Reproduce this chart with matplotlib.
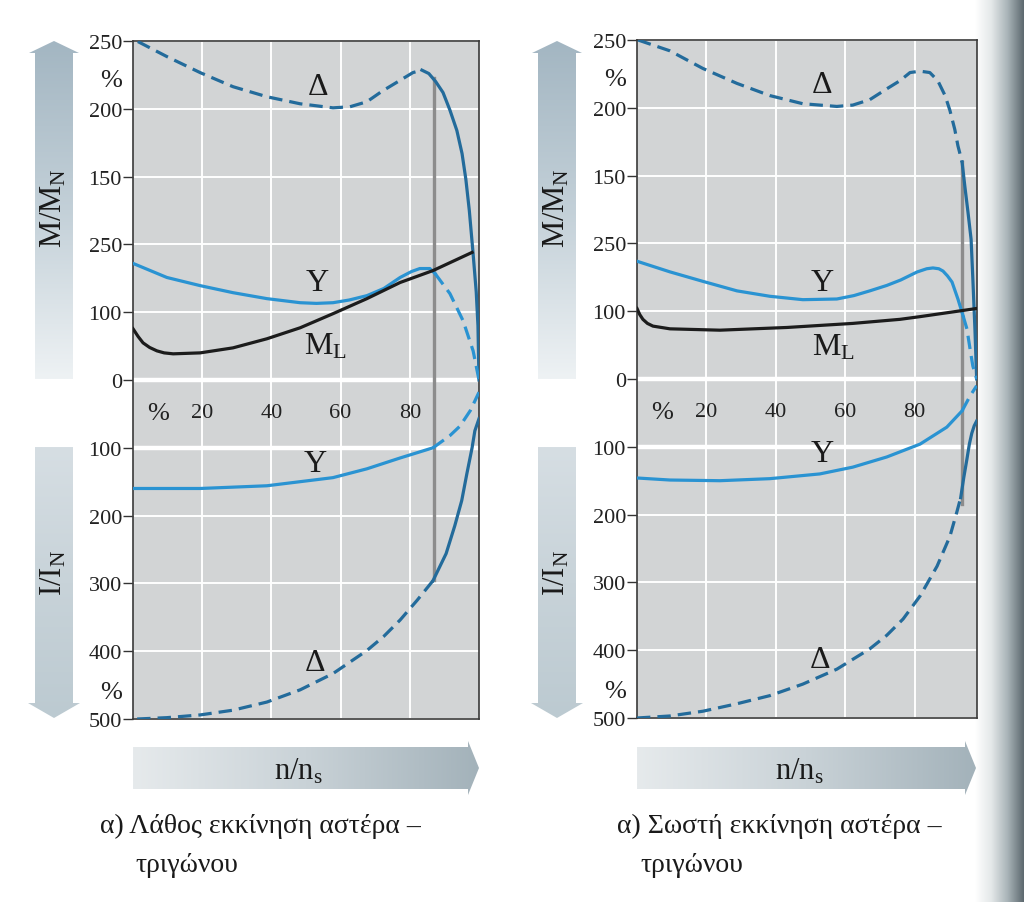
import numpy as np
import matplotlib.pyplot as plt
from matplotlib.patches import Polygon
from matplotlib.colors import LinearSegmentedColormap

plt.rcParams['font.family'] = ['Liberation Serif', 'DejaVu Serif']
plt.rcParams['mathtext.fontset'] = 'custom'
plt.rcParams['mathtext.rm'] = 'Liberation Serif'
plt.rcParams['mathtext.it'] = 'Liberation Serif:italic'

# printed y labels: upper half torque, lower half current (as in the book)
ytick_pos = [5, 4, 3, 2, 1, 0, -1, -2, -3, -4, -5]
ytick_text = ['250', '200', '150', '250', '100', '0', '100', '200', '300', '400', '500']
xtick_pos = [20, 40, 60, 80]
xtick_text = ['20', '40', '60', '80']

M_STEP = 50.0   # torque % per grid step
I_STEP = 100.0  # current % per grid step

# ---- left panel: wrong star-delta start ----
L_switch = 87.0
L_dM_dash_x = [1.4, 9.8, 19.4, 28.9, 38.7, 48.3, 57.8, 62.7, 67.6, 72.0, 77.2, 80.9, 83.5]
L_dM_dash = [249.6, 238.5, 226.7, 216.3, 208.9, 203.7, 200.7, 201.5, 205.2, 213, 221, 226.7, 228.5]
L_dM_x = [83.5, 85.5, 87.5, 89.6, 91.6, 93.6, 95.1, 96.2, 97.2, 98.3, 99.2, 99.7, 100]
L_dM = [228.5, 226, 220, 212, 199, 184, 167, 148, 125, 93, 65, 40, 0]
L_yM_x = [0, 9.8, 19.4, 28.9, 38.7, 48.3, 53, 57.8, 62.5, 67.6, 72.5, 77.2, 80.5, 82.9, 85.8, 87.3]
L_yM = [86, 75.6, 69.6, 64.4, 60, 57, 56.5, 57, 59, 62.2, 67.5, 75.6, 80, 82.2, 82.2, 78.5]
L_yM_dash_x = [87.3, 91.6, 95.4, 98.3, 100]
L_yM_dash = [78.5, 63.7, 43.7, 21.5, 0]
L_ML_x = [0, 1.5, 2.9, 4.8, 6.9, 9.0, 11.6, 19.4, 28.9, 38.7, 48.3, 57.8, 67.6, 77.2, 86.7, 98.0]
L_ML = [37.8, 32, 27.4, 24, 21.5, 20, 19.3, 20, 23.7, 30.4, 38.5, 48.9, 60, 71.9, 80.7, 94.1]
L_yI_x = [0, 19.4, 38.7, 57.8, 67.6, 77.2, 86.7]
L_yI = [160, 160, 156, 144, 131, 115, 100]
L_yI_dash_x = [86.7, 91.6, 94.5, 97.5, 100]
L_yI_dash = [100, 82, 68, 45, 18]
L_dI_dash_x = [1.2, 9.8, 19.4, 28.9, 38.7, 48.3, 57.8, 67.6, 72.5, 77.2, 82.1, 86.7]
L_dI_dash = [500, 498, 494, 487, 475, 457, 433, 399, 378, 354, 325, 296]
L_dI_x = [86.7, 90.5, 93.0, 95.0, 96.5, 98.0, 98.8, 100]
L_dI = [296, 256, 215, 178, 138, 100, 75, 57]

# ---- right panel: correct star-delta start ----
R_switch = 93.6
R_dM_dash_x = [0.3, 9.5, 19.0, 28.8, 38.3, 47.8, 57.6, 62.2, 67.1, 72.0, 75.8, 78.7, 81.6,
               84.4, 86.7, 88.8, 90.2, 91.6, 92.5, 93.7]
R_dM_dash = [250, 242, 229, 218, 209, 203, 201, 202, 206, 214, 220, 226, 227,
             226, 220, 209, 198, 184, 172, 160]
R_dM_x = [93.7, 94.5, 95.4, 96.3, 96.8, 97.4, 97.9]
R_dM = [160, 142, 123, 103, 74, 37, 0]
R_yM_x = [0.3, 9.5, 19, 28.8, 38.3, 47.8, 57.6, 62.5, 67.1, 72, 76, 80.7, 83.5, 85.3, 87,
          88.2, 89.5, 90.8, 92.5, 94.0]
R_yM = [86.6, 79, 72, 65, 61, 58.5, 59, 61.5, 65, 69, 73, 78.9, 81.3, 81.9, 81.3,
        79.6, 76, 71.5, 59, 46.5]
R_yM_dash_x = [94.0, 95.1, 96.0, 96.8, 97.9]
R_yM_dash = [46.5, 36.9, 22.1, 9.6, 0]
R_ML_x = [0, 0.8, 1.7, 3.0, 4.6, 9.5, 23.9, 43.2, 62.2, 75.8, 81.6, 97.9]
R_ML = [52, 47.5, 44, 41, 39, 37, 36, 38, 41, 44, 46, 52]
R_yI_x = [0, 9.5, 23.9, 38.3, 52.7, 62.2, 72, 81.6, 89.3, 93.7]
R_yI = [146, 149, 150, 147, 140, 130, 115, 96, 71, 47]
R_yI_dash_x = [93.7, 96.0, 97.9]
R_yI_dash = [47, 25, 10]
R_dI_dash_x = [0, 9.5, 19, 28.8, 38.3, 47.8, 57.6, 67.1, 72, 76.7, 81.6, 86.5, 90.2, 92.2, 93.3]
R_dI_dash = [500, 497, 490, 479, 467, 450, 428, 398, 378, 354, 320, 276, 232, 196, 175]
R_dI_x = [93.3, 94.2, 95.1, 95.8, 96.5, 97.2, 97.9]
R_dI = [175, 145, 118, 96, 80, 69, 62]

C_Y = '#2a93d2'
C_D = '#236b9b'
C_ML = '#1c1c1c'
C_SW = '#8c8c8c'
BG = '#d2d4d5'
DASH = (4.2, 2.2)

fig = plt.figure(figsize=(10.24, 9.03), dpi=100)
fig.patch.set_facecolor('white')

# pixel-space layer for arrows, captions and page shadow
ax_bg = fig.add_axes([0, 0, 1, 1], zorder=-5)
ax_bg.axis('off')


def grad_fill(verts, colors, horizontal):
    poly = Polygon(verts, closed=True, fc='none', ec='none')
    ax_bg.add_patch(poly)
    xs = [v[0] for v in verts]
    ys = [v[1] for v in verts]
    g = np.linspace(0, 1, 256)
    img = g[None, :] if horizontal else g[:, None]
    cmap = LinearSegmentedColormap.from_list('g', colors)
    im = ax_bg.imshow(img, extent=(min(xs), max(xs), max(ys), min(ys)), origin='upper',
                      cmap=cmap, aspect='auto', interpolation='bilinear')
    im.set_clip_path(poly)


# page shadow at the right edge (drawn first, arrows sit on top)
grad_fill([(975, 0), (1024, 0), (1024, 903), (975, 903)],
          ['#ffffff', '#e4e8e9', '#a9b4b8', '#5c686e'], True)

for x0 in [35, 538]:
    xc = x0 + 19
    # up arrow (torque)
    grad_fill([(x0, 380), (x0, 54), (x0 - 6, 54), (xc, 42), (x0 + 44, 54), (x0 + 38, 54),
               (x0 + 38, 380)], ['#a3b6c2', '#c3d0d8', '#eef2f4'], False)
    # down arrow (current)
    grad_fill([(x0, 448), (x0 + 38, 448), (x0 + 38, 704), (x0 + 45, 704), (xc, 719),
               (x0 - 7, 704), (x0, 704)], ['#d6dee3', '#c8d3d9', '#bccad1'], False)
    ax_bg.text(xc, 208, r'M/M$_\mathrm{N}$', rotation=90, ha='center', va='center',
               fontsize=22, color='#1a1a1a')
    ax_bg.text(xc, 573, r'I/I$_\mathrm{N}$', rotation=90, ha='center', va='center',
               fontsize=22, color='#1a1a1a')

for x0, x1 in [(133, 468), (637, 965)]:
    grad_fill([(x0, 748), (x1, 748), (x1, 742), (x1 + 11, 769), (x1, 796), (x1, 790),
               (x0, 790)], ['#e6eaec', '#c9d2d7', '#a3b2ba'], True)
    ax_bg.text((x0 + x1) / 2 - 2, 772, r'n/n$_\mathrm{s}$', ha='center', va='center',
               fontsize=22, color='#1a1a1a')

ax_bg.text(100, 826, 'α) Λάθος εκκίνηση αστέρα –', ha='left', va='center', fontsize=20,
           color='#1a1a1a')
ax_bg.text(135, 866, 'τριγώνου', ha='left', va='center', fontsize=20, color='#1a1a1a')
ax_bg.text(617, 826, 'α) Σωστή εκκίνηση αστέρα –', ha='left', va='center', fontsize=20,
           color='#1a1a1a')
ax_bg.text(640, 866, 'τριγώνου', ha='left', va='center', fontsize=20, color='#1a1a1a')
ax_bg.set_xlim(0, 1024)
ax_bg.set_ylim(903, 0)


def m(v):
    return np.array(v) / M_STEP


def i(v):
    return -np.array(v) / I_STEP


def setup(ax, xmax):
    ax.set_facecolor(BG)
    ax.set_xlim(0, xmax)
    ax.set_ylim(-5, 5)
    ax.set_xticks(xtick_pos)
    ax.set_xticklabels([])
    ax.tick_params(axis='x', length=0)
    ax.set_yticks(ytick_pos)
    ax.set_yticklabels(ytick_text, fontsize=16, color='#222222')
    ax.tick_params(axis='y', length=7, width=1.0, color='#333333', pad=1)
    ax.grid(True, color='white', lw=1.4)
    ax.axhline(0, color='white', lw=3.2, zorder=1)
    ax.axhline(-1, color='white', lw=3.2, zorder=1)
    for s in ax.spines.values():
        s.set_color('#3a3a3a')
        s.set_linewidth(1.2)
    ax.set_axisbelow(True)
    ax.text(7.2, -0.48, '%', ha='center', va='center', fontsize=19, color='#222222')
    for p, t in zip(xtick_pos, xtick_text):
        ax.text(p, -0.48, t, ha='center', va='center', fontsize=16, color='#222222')
    ax.text(-0.064, 4.43, '%', transform=ax.get_yaxis_transform(), ha='center',
            va='center', fontsize=19, color='#222222')
    ax.text(-0.064, -4.6, '%', transform=ax.get_yaxis_transform(), ha='center',
            va='center', fontsize=19, color='#222222')


# left panel
ax = fig.add_axes([133 / 1024, 1 - 720 / 903, 346 / 1024, 678 / 903])
setup(ax, 100)
ax.plot([L_switch, L_switch], [4.45, -2.95], color=C_SW, lw=2.4, zorder=2)
ax.plot(L_dM_dash_x, m(L_dM_dash), color=C_D, lw=2.3, dashes=DASH, zorder=3)
ax.plot(L_dM_x, m(L_dM), color=C_D, lw=2.3, zorder=3)
ax.plot(L_yM_x, m(L_yM), color=C_Y, lw=2.3, zorder=3)
ax.plot(L_yM_dash_x, m(L_yM_dash), color=C_Y, lw=2.3, dashes=DASH, zorder=3)
ax.plot(L_ML_x, m(L_ML), color=C_ML, lw=2.3, zorder=3)
ax.plot(L_yI_x, i(L_yI), color=C_Y, lw=2.3, zorder=3)
ax.plot(L_yI_dash_x, i(L_yI_dash), color=C_Y, lw=2.3, dashes=DASH, zorder=3)
ax.plot(L_dI_dash_x, i(L_dI_dash), color=C_D, lw=2.3, dashes=DASH, zorder=3)
ax.plot(L_dI_x, i(L_dI), color=C_D, lw=2.3, zorder=3)
ax.text(53.5, 4.33, 'Δ', ha='center', va='center', fontsize=23, color='#1a1a1a')
ax.text(53.2, 1.44, 'Y', ha='center', va='center', fontsize=23, color='#1a1a1a')
ax.text(55.5, 0.5, r'M$_\mathrm{L}$', ha='center', va='center', fontsize=23, color='#1a1a1a')
ax.text(52.6, -1.23, 'Y', ha='center', va='center', fontsize=23, color='#1a1a1a')
ax.text(52.6, -4.16, 'Δ', ha='center', va='center', fontsize=23, color='#1a1a1a')

# right panel
ax = fig.add_axes([637 / 1024, 1 - 719 / 903, 340 / 1024, 678 / 903])
setup(ax, 98)
ax.plot([R_switch, R_switch], [3.2, -1.85], color=C_SW, lw=2.4, zorder=2)
ax.plot(R_dM_dash_x, m(R_dM_dash), color=C_D, lw=2.3, dashes=DASH, zorder=3)
ax.plot(R_dM_x, m(R_dM), color=C_D, lw=2.3, zorder=3)
ax.plot(R_yM_x, m(R_yM), color=C_Y, lw=2.3, zorder=3)
ax.plot(R_yM_dash_x, m(R_yM_dash), color=C_Y, lw=2.3, dashes=DASH, zorder=3)
ax.plot(R_ML_x, m(R_ML), color=C_ML, lw=2.3, zorder=3)
ax.plot(R_yI_x, i(R_yI), color=C_Y, lw=2.3, zorder=3)
ax.plot(R_yI_dash_x, i(R_yI_dash), color=C_Y, lw=2.3, dashes=DASH, zorder=3)
ax.plot(R_dI_dash_x, i(R_dI_dash), color=C_D, lw=2.3, dashes=DASH, zorder=3)
ax.plot(R_dI_x, i(R_dI), color=C_D, lw=2.3, zorder=3)
ax.text(53.3, 4.35, 'Δ', ha='center', va='center', fontsize=23, color='#1a1a1a')
ax.text(53.3, 1.43, 'Y', ha='center', va='center', fontsize=23, color='#1a1a1a')
ax.text(56.5, 0.47, r'M$_\mathrm{L}$', ha='center', va='center', fontsize=23, color='#1a1a1a')
ax.text(53.3, -1.1, 'Y', ha='center', va='center', fontsize=23, color='#1a1a1a')
ax.text(52.8, -4.13, 'Δ', ha='center', va='center', fontsize=23, color='#1a1a1a')

fig.savefig('out.png', dpi=100)
